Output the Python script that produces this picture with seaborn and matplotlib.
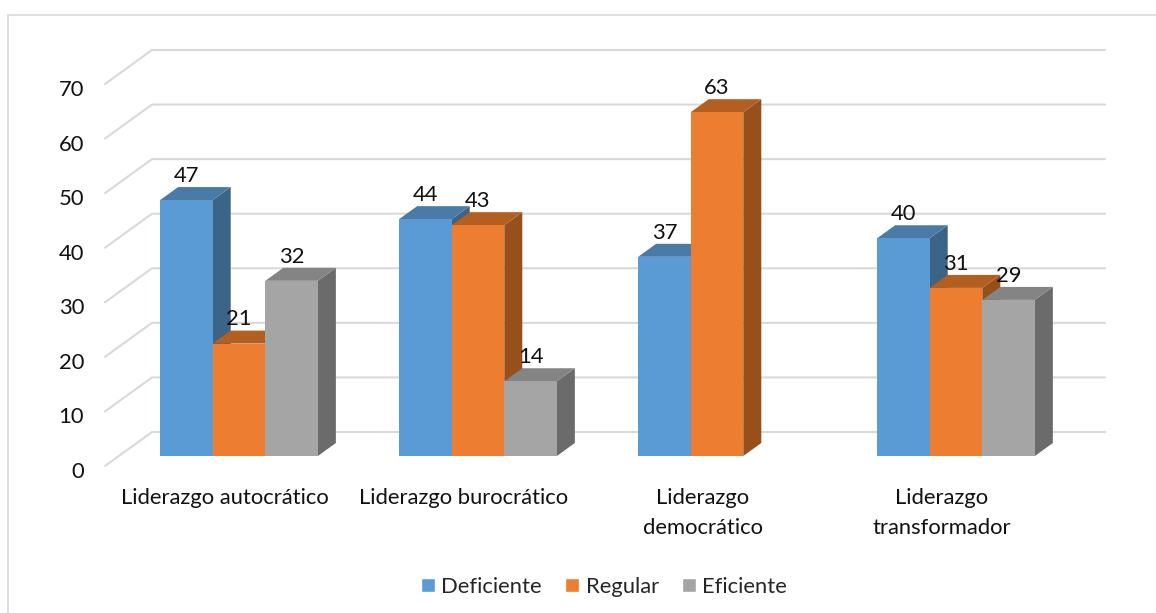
import numpy as np
import pandas as pd
import matplotlib
matplotlib.use("Agg")
import matplotlib.pyplot as plt
from matplotlib.patches import Polygon, Rectangle
from matplotlib.transforms import ScaledTranslation
import seaborn as sns

categorias = ["Liderazgo autocrático", "Liderazgo burocrático", "Liderazgo\ndemocrático", "Liderazgo\ntransformador"]
# heights, the printed labels are rounded
deficiente = [46.9, 43.4, 36.5, 39.9]
regular = [20.6, 42.3, 63.0, 30.8]
eficiente = [32.1, 13.7, np.nan, 28.6]
# the empty Eficiente bar is dropped by barplot, so only 3 labels there
etiquetas = [["47", "44", "37", "40"], ["21", "43", "63", "31"], ["32", "14", "29"]]
niveles = ["Deficiente", "Regular", "Eficiente"]
y_ticks = [0, 10, 20, 30, 40, 50, 60, 70]

colores = ["#5B9BD5", "#ED7D31", "#A5A5A5"]
colores_top = ["#4A7BA7", "#B45F22", "#848484"]
colores_lado = ["#3C6486", "#974F1B", "#6B6B6B"]
gris = "#D9D9D9"
fs = 15.8

W, H = 1156, 613
sns.set_style("white")
plt.rcParams["font.family"] = "Lato"

df = pd.DataFrame({"categoria": categorias, "Deficiente": deficiente, "Regular": regular, "Eficiente": eficiente})
df = df.melt(id_vars="categoria", var_name="nivel", value_name="valor")

fig = plt.figure(figsize=(W / 100, H / 100), dpi=100)
# axes placed so that value 0 sits on the bars' base line
ax = fig.add_axes([119.5 / W, 1 - 456 / H, 956 / W, 382 / H])
ax.patch.set_alpha(0)
sns.barplot(data=df, x="categoria", y="valor", hue="nivel", hue_order=niveles, palette=colores,
            order=categorias, width=0.66, gap=0, saturation=1, dodge=True, ax=ax)
ax.set_xlim(-0.5, 3.5)
ax.set_ylim(0, 70)
ax.set_xlabel("")
ax.set_ylabel("")
sns.despine(ax=ax, left=True, bottom=True)

px_x = 4 / 956
px_y = 70 / 382

# 3d look: side + top face of each bar, left to right
dx, dy = 18 * px_x, 13 * px_y
for i, cont in enumerate(ax.containers):
    for bar in cont:
        x0, h, w = bar.get_x(), bar.get_height(), bar.get_width()
        if not np.isfinite(h):
            continue
        z = 5 + x0 * 10 + i * 0.1
        bar.set_zorder(z + 0.02)
        bar.set_linewidth(0)
        lado = Polygon([(x0 + w, 0), (x0 + w + dx, dy), (x0 + w + dx, h + dy), (x0 + w, h)],
                       fc=colores_lado[i], ec="none", zorder=z, clip_on=False)
        top = Polygon([(x0, h), (x0 + dx, h + dy), (x0 + w + dx, h + dy), (x0 + w, h)],
                      fc=colores_top[i], ec="none", zorder=z + 0.01, clip_on=False)
        ax.add_patch(lado)
        ax.add_patch(top)
    for t in ax.bar_label(cont, labels=etiquetas[i], padding=10.3, fontsize=fs, color="#111111"):
        t.set_zorder(100)

# gridlines on floor/wall
x_fr, x_bk, x_end = (105 - 239) * px_x, (152 - 239) * px_x, (1105 - 239) * px_x
for v in y_ticks:
    ax.plot([x_fr, x_bk, x_end], [v - 10 * px_y, v + 24 * px_y, v + 24 * px_y],
            color=gris, lw=1.5, zorder=1, clip_on=False)

ax.set_yticks(y_ticks)
ax.tick_params(axis="both", length=0, labelsize=fs, labelcolor="#111111")
ax.tick_params(axis="y", pad=0)
ax.tick_params(axis="x", pad=23)
off_y = ScaledTranslation(-35.5 / 100, -14 / 100, fig.dpi_scale_trans)
off_x = ScaledTranslation(-14 / 100, 0, fig.dpi_scale_trans)
for lb in ax.get_yticklabels():
    lb.set_transform(lb.get_transform() + off_y)
for lb in ax.get_xticklabels():
    lb.set_transform(lb.get_transform() + off_x)
    lb.set_linespacing(1.6)

sns.move_legend(ax, "center", bbox_to_anchor=(604 / W, 1 - 587 / H), bbox_transform=fig.transFigure,
                ncol=3, frameon=False, title=None, fontsize=fs, handlelength=0.63, handleheight=0.63,
                handletextpad=0.3, columnspacing=1.05)

fig.add_artist(Rectangle((8 / W, -0.1), 1.2, 1.1 - 14.5 / H, transform=fig.transFigure,
                         fc="none", ec=gris, lw=1.2))

fig.savefig("out.png", dpi=100)
